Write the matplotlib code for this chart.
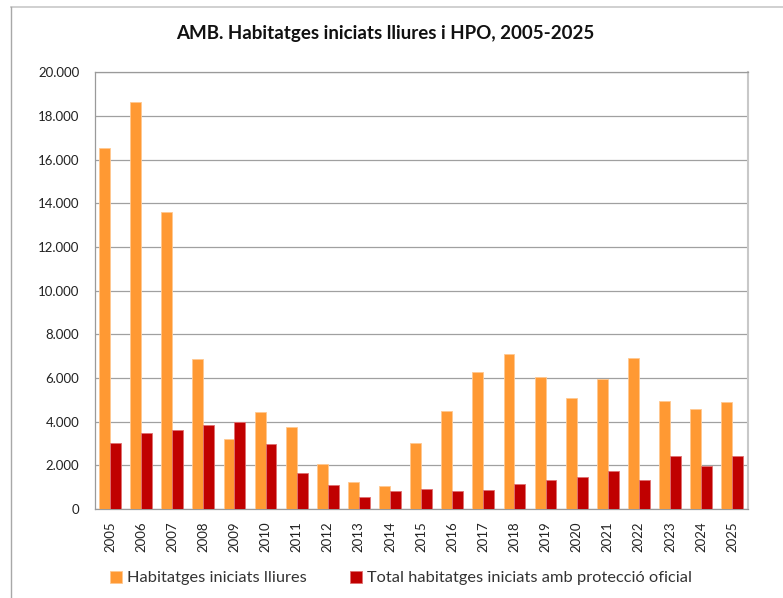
import matplotlib
matplotlib.use("Agg")
import matplotlib.pyplot as plt
import numpy as np
from matplotlib.lines import Line2D

years = [str(y) for y in range(2005, 2026)]
lliures = [16530, 18620, 13600, 6870, 3210, 4430, 3760, 2080, 1220, 1040,
           3040, 4490, 6260, 7110, 6050, 5090, 5970, 6920, 4960, 4570, 4900]
hpo = [3010, 3480, 3620, 3830, 4000, 2980, 1650, 1115, 550, 840,
       915, 825, 885, 1160, 1330, 1470, 1755, 1330, 2430, 1985, 2430]
yticks = list(range(0, 20001, 2000))
ytick_labels = ["0"] + [f"{v // 1000}.000" for v in yticks[1:]]
title = "AMB. Habitatges iniciats lliures i HPO, 2005-2025"
label_lliures = "Habitatges iniciats lliures"
label_hpo = "Total habitatges iniciats amb protecció oficial"

plt.rcParams['font.family'] = ['Lato', 'DejaVu Sans']

W, H = 783, 598
fig = plt.figure(figsize=(W / 100, H / 100), dpi=100)
fig.patch.set_facecolor("white")

def fx(px):
    return px / W

def fy(py):
    return 1 - py / H

# outer frame (top and left edges)
fig.add_artist(Line2D([fx(10.5), 1.0], [fy(7.3), fy(7.3)], color="#C8C8C8", lw=1.2, transform=fig.transFigure))
fig.add_artist(Line2D([fx(10.5), fx(10.5)], [fy(7.3), 0.0], color="#A8A8A8", lw=1.0, transform=fig.transFigure))

left, right, top, bottom = 94.5, 747.7, 72.3, 509.0
ax = fig.add_axes([fx(left), fy(bottom), fx(right - left), (bottom - top) / H])

x = np.arange(len(years))
w = 0.35
ax.bar(x - w / 2, lliures, width=w, color="#FF9933", edgecolor="#FFC890", linewidth=0.6, zorder=3, label=label_lliures)
ax.bar(x + w / 2, hpo, width=w, color="#C00000", edgecolor="#E07070", linewidth=0.6, zorder=3, label=label_hpo)

ax.set_xlim(-0.5, len(years) - 0.5)
ax.set_ylim(0, 20000)
ax.set_yticks(yticks)
ax.set_yticklabels(ytick_labels, fontsize=9.5, color="#222222")
ax.set_xticks(x)
ax.set_xticklabels(years, rotation=90, fontsize=9.5, color="#222222")
ax.tick_params(length=0)
ax.tick_params(axis="y", pad=11)
ax.tick_params(axis="x", pad=9)
ax.grid(axis="y", color="#A0A0A0", lw=0.9, zorder=0)
for s in ["left", "bottom", "top"]:
    ax.spines[s].set_color("#9A9A9A")
    ax.spines[s].set_linewidth(0.9)
ax.spines["right"].set_color("#C8C8C8")
ax.spines["right"].set_linewidth(1.5)

fig.text(fx(385), fy(34), title, ha="center", va="center", fontsize=13.5, fontweight="bold", color="#111111")

leg = fig.legend(loc="center", bbox_to_anchor=(fx(401), fy(578)), ncol=2, frameon=False,
                 fontsize=11.8, handlelength=0.75, handleheight=0.75, handletextpad=0.3,
                 columnspacing=2.6, labelcolor="#333333")

fig.savefig("out.png", dpi=100, facecolor="white")
